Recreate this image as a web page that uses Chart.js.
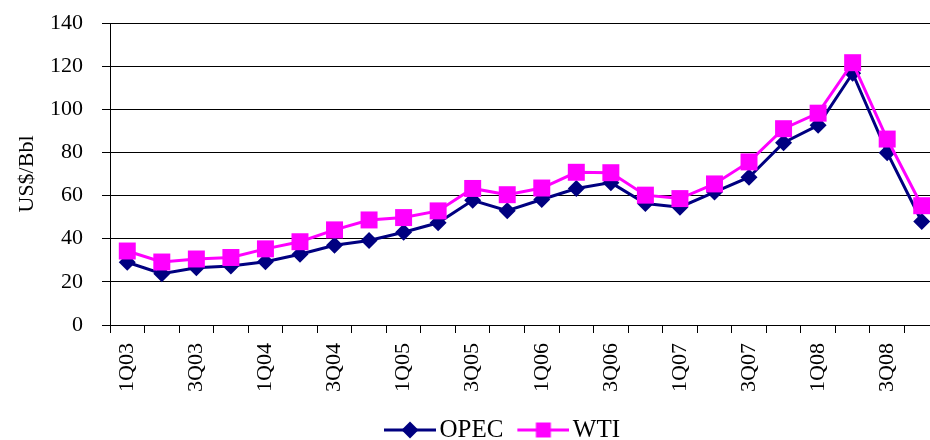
<!DOCTYPE html>
<html>
<head>
<meta charset="utf-8">
<script src="https://cdn.jsdelivr.net/npm/chart.js@4.4.1/dist/chart.umd.min.js"></script>
<style>
  html, body { margin: 0; padding: 0; background: #fff; overflow: hidden; }
  /* the plot runs a little past the right edge of the picture, as in the original */
  #wrap { width: 940px; height: 440px; position: relative; }
</style>
</head>
<body>
<div id="wrap"><canvas id="oilChart"></canvas></div>
<script>
// quarters 1Q03 .. 4Q08
const quarters = [
    '1Q03', '2Q03', '3Q03', '4Q03',
    '1Q04', '2Q04', '3Q04', '4Q04',
    '1Q05', '2Q05', '3Q05', '4Q05',
    '1Q06', '2Q06', '3Q06', '4Q06',
    '1Q07', '2Q07', '3Q07', '4Q07',
    '1Q08', '2Q08', '3Q08', '4Q08'
];
const opecPrices = [
    29.1, 23.8, 26.5, 27.3,
    29.3, 32.8, 37.0, 39.2,
    43.0, 47.4, 57.8, 53.0,
    58.2, 63.3, 66.0, 56.3,
    54.6, 61.6, 68.5, 84.5,
    92.6, 116.7, 79.9, 48.0
];
const wtiPrices = [
    34.3, 29.2, 30.6, 31.3,
    35.3, 38.6, 44.1, 48.7,
    49.8, 52.9, 63.3, 60.4,
    63.5, 70.8, 70.6, 60.2,
    58.6, 65.4, 75.6, 91.0,
    98.2, 121.6, 86.2, 55.3
];
const yTicks = [0, 20, 40, 60, 80, 100, 120, 140];

const FONT = '"Liberation Serif", serif';

// line + marker swatch for the legend (drawn a bit to the right so the text sits close)
const makeSwatch = (color, style, r) => {
    const c = document.createElement('canvas');
    c.width = 70; c.height = 20;
    const g = c.getContext('2d');
    g.strokeStyle = color; g.lineWidth = 3;
    g.beginPath(); g.moveTo(18, 10); g.lineTo(70, 10); g.stroke();
    g.fillStyle = color;
    g.beginPath();
    if (style === 'diamond') {
        g.moveTo(44 - r, 10); g.lineTo(44, 10 - r); g.lineTo(44 + r, 10); g.lineTo(44, 10 + r);
    } else {
        g.rect(44 - r, 10 - r, 2 * r, 2 * r);
    }
    g.closePath(); g.fill();
    return c;
};
const swatches = [makeSwatch('#000080', 'diamond', 8.5), makeSwatch('#FF00FF', 'rect', 7.5)];

// legend sits a little left of the plot centre in the original
const legendNudge = {
    id: 'legendNudge',
    afterLayout(chart) {
        chart.legend.left -= 27;
        chart.legend.right -= 27;
    }
};

const ctx = document.getElementById('oilChart').getContext('2d');
new Chart(ctx, {
    type: 'line',
    data: {
        labels: quarters,
        datasets: [{
            label: 'OPEC',
            data: opecPrices,
            borderColor: '#000080',
            backgroundColor: '#000080',
            borderWidth: 3,
            pointStyle: 'rectRot',
            pointRadius: 8.5,
            pointBorderWidth: 0,
            tension: 0,
            order: 1
        }, {
            label: 'WTI',
            data: wtiPrices,
            borderColor: '#FF00FF',
            backgroundColor: '#FF00FF',
            borderWidth: 3,
            pointStyle: 'rect',
            pointRadius: 12,
            pointBorderWidth: 0,
            tension: 0,
            order: 0
        }]
    },
    plugins: [legendNudge],
    options: {
        responsive: true,
        maintainAspectRatio: false,
        animation: false,
        layout: {
            autoPadding: false,
            padding: { left: 14, right: 1, top: 23, bottom: -12.5 }
        },
        plugins: {
            tooltip: { enabled: false },
            legend: {
                position: 'bottom',
                fullSize: false,
                labels: {
                    font: { family: FONT, size: 25 },
                    color: '#000',
                    usePointStyle: true,
                    pointStyleWidth: 52,
                    boxHeight: 22,
                    padding: 5,
                    sort: (a, b) => a.datasetIndex - b.datasetIndex,
                    generateLabels: (chart) => {
                        const items = Chart.defaults.plugins.legend.labels.generateLabels(chart);
                        return items.map(it => ({ ...it, pointStyle: swatches[it.datasetIndex] }));
                    }
                }
            }
        },
        scales: {
            x: {
                offset: true,
                afterFit: (axis) => {
                    axis.height = 87.5;
                    axis.paddingLeft = 0;
                    axis.paddingRight = 0;
                },
                grid: {
                    offset: true,
                    drawOnChartArea: false,
                    drawTicks: true,
                    tickLength: 8,
                    color: '#000'
                },
                border: { color: '#000' },
                ticks: {
                    autoSkip: false,
                    maxRotation: 90,
                    minRotation: 90,
                    color: '#000',
                    padding: 10,
                    font: { family: FONT, size: 22 },
                    callback: (v, i) => (i % 2 === 0 ? quarters[i] : '')
                }
            },
            y: {
                min: 0,
                max: 140,
                afterBuildTicks: (axis) => { axis.ticks = yTicks.map(v => ({ value: v })); },
                afterFit: (axis) => {
                    axis.width = 96;
                    axis.paddingTop = 0;
                    axis.paddingBottom = 0;
                },
                grid: { color: '#000', tickLength: 8 },
                border: { color: '#000' },
                ticks: {
                    color: '#000',
                    padding: 19,
                    font: { family: FONT, size: 22 }
                },
                title: {
                    display: true,
                    text: 'US$/Bbl',
                    color: '#000',
                    font: { family: FONT, size: 22 },
                    padding: { top: 0, bottom: 10 }
                }
            }
        }
    }
});
</script>
</body>
</html>
